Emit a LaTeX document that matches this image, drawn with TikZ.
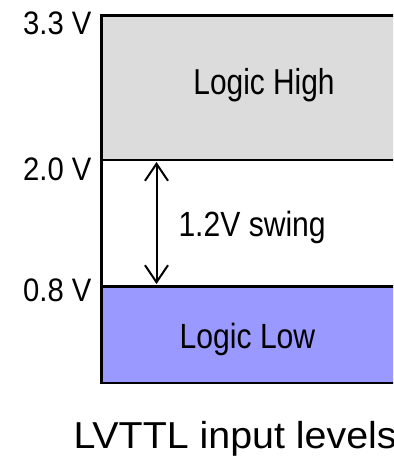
\documentclass[tikz,border=0pt]{standalone}
\usepackage{fontspec}
\setmainfont{Liberation Sans}
\newfontfamily\levelfont{Liberation Sans}[FakeStretch=0.9]
\newfontfamily\highfont{Liberation Sans}[FakeStretch=0.83]
\newfontfamily\zonefont{Liberation Sans}[FakeStretch=0.86]
\newfontfamily\captionfont{Liberation Sans}[FakeStretch=1.05]
\usetikzlibrary{arrows.meta}
\definecolor{highfill}{RGB}{220,220,220}
\definecolor{lowfill}{RGB}{153,153,255}
\tikzset{
  edge/.style={line width=2.6pt, line cap=rect},
  level/.style={inner sep=0pt, anchor=base east, font=\levelfont\fontsize{32.5}{39}\selectfont},
  zonetext/.style={inner sep=0pt, anchor=base, font=\zonefont\fontsize{35}{42}\selectfont},
  swing/.style={line width=2pt, {Straight Barb[length=17pt,width=23pt]}-{Straight Barb[length=17pt,width=23pt]}}
}
\begin{document}
\begin{tikzpicture}[x=1pt,y=-1pt]
\useasboundingbox (0,0) rectangle (393,465);
% voltage band corners
\coordinate (topL) at (101.5,15.5);
\coordinate (topR) at (400,15.5);
\coordinate (vihL) at (101.5,160);
\coordinate (vihR) at (400,160);
\coordinate (vilL) at (101.5,286.5);
\coordinate (vilR) at (400,286.5);
\coordinate (botL) at (101.5,383);
\coordinate (botR) at (400,383);
\begin{scope}
  \clip (0,0) rectangle (393,465);
  \fill[highfill] (topL) rectangle (vihR);
  \fill[lowfill] (vilL) rectangle (botR);
  \draw[edge] (topR) -- (topL) -- (botL) -- (botR);
  \draw[edge] (vihL) -- (vihR);
  \draw[edge] (vilL) -- (vilR);
\end{scope}
% voltage labels
\node[level] (l33) at (91.7,35) {3.3 V};
\node[level] (l20) at (91.7,180) {2.0 V};
\node[level] (l08) at (91.7,301.7) {0.8 V};
% zone texts
\node[zonetext, font=\highfont\fontsize{36}{43}\selectfont] (high) at (264,94.3) {Logic High};
\node[zonetext] (low) at (247.5,348.3) {Logic Low};
\node[zonetext, anchor=base west] (swingtxt) at (178.3,236.7) {1.2V swing};
% swing arrow between the two thresholds
\coordinate (aTop) at (156.5,162);
\coordinate (aBot) at (156.5,284);
\draw[swing] (aTop) -- (aBot);
% caption
\begin{scope}
  \clip (0,0) rectangle (393,465);
  \node[inner sep=0pt, anchor=base west, font=\captionfont\fontsize{37.5}{45}\selectfont] (caption) at (73.3,448.3) {LVTTL input levels};
\end{scope}
\end{tikzpicture}
\end{document}
